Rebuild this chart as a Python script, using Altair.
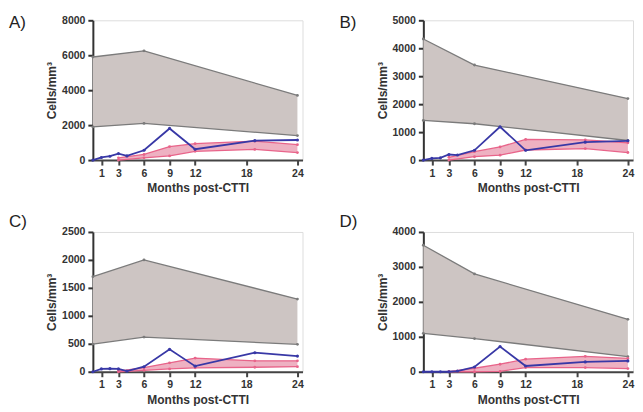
import altair as alt
import pandas as pd

# ---- data ----
grey_months = [0, 6, 24]
pink_months = [3, 6, 9, 12, 19, 24]
blue_months = [0, 1, 2, 3, 4, 6, 9, 12, 19, 24]
x_ticks = [1, 3, 6, 9, 12, 18, 24]

# Panel A
A_grey_up = [5900, 6250, 3700]
A_grey_lo = [1900, 2100, 1400]
A_pink_up = [130, 320, 770, 940, 1080, 880]
A_pink_lo = [0, 130, 240, 500, 610, 430]
A_blue = [0, 150, 220, 370, 240, 560, 1810, 620, 1110, 1150]

# Panel B
B_grey_up = [4330, 3400, 2200]
B_grey_lo = [1420, 1300, 700]
B_pink_up = [100, 300, 470, 740, 720, 620]
B_pink_lo = [0, 120, 175, 360, 410, 270]
B_blue = [0, 60, 80, 200, 180, 350, 1190, 350, 640, 690]

# Panel C
C_grey_up = [1700, 2000, 1300]
C_grey_lo = [495, 620, 490]
C_pink_up = [10, 75, 160, 245, 195, 195]
C_pink_lo = [0, 25, 50, 70, 80, 90]
C_blue = [0, 50, 55, 50, 12, 90, 400, 100, 340, 280]

# Panel D
D_grey_up = [3620, 2800, 1500]
D_grey_lo = [1100, 950, 430]
D_pink_up = [0, 100, 215, 360, 440, 380]
D_pink_lo = [0, 0, 10, 120, 120, 90]
D_blue = [0, 0, 0, 0, 20, 135, 720, 165, 280, 310]

GREY_FILL = "#cdc5c3"
GREY_LINE = "#7b7b7b"
PINK_FILL = "#eba3b7"
PINK_LINE = "#e8648a"
BLUE = "#3838a6"
FONT = "Liberation Sans"
W, H = 210, 140


def panel(letter, label_y, ymax, ystep, gu, gl, pu, pl, bl):
    grey = pd.DataFrame({"m": grey_months, "up": gu, "lo": gl})
    pink = pd.DataFrame({"m": pink_months, "up": pu, "lo": pl})
    blue = pd.DataFrame({"m": blue_months, "v": bl})

    xs = alt.Scale(domain=[0, 24.6], nice=False, zero=False)
    ys = alt.Scale(domain=[0, ymax], nice=False)
    xax = alt.Axis(values=x_ticks, title="Months post-CTTI", grid=False,
                   labelFont=FONT, labelFontWeight="bold", labelFontSize=10.5,
                   labelColor="#333", titleFont=FONT, titleFontWeight="bold",
                   titleFontSize=12, titleColor="#333", domainColor="#444",
                   domainWidth=2, tickColor="#444", tickWidth=2, tickSize=5,
                   labelPadding=3, titlePadding=4, labelOverlap=False)
    yax = alt.Axis(values=list(range(0, ymax + 1, ystep)), format="d",
                   title="Cells/mm³", grid=False, labelFont=FONT,
                   labelFontWeight="bold", labelFontSize=10.5, labelColor="#333",
                   titleFont=FONT, titleFontWeight="bold", titleFontSize=12,
                   titleColor="#333", domainColor="#333", domainWidth=2,
                   tickColor="#333", tickWidth=2, tickSize=5, labelPadding=3,
                   titlePadding=3, labelOverlap=False)

    x = alt.X("m:Q", scale=xs, axis=xax)

    def y(field):
        return alt.Y(field, type="quantitative", scale=ys, axis=yax)

    gbase = alt.Chart(grey)
    g_area = gbase.mark_area(color=GREY_FILL, opacity=1).encode(
        x=x, y=y("up"), y2="lo:Q")
    g_up = gbase.mark_line(color=GREY_LINE, strokeWidth=1.3,
                           point=alt.OverlayMarkDef(color=GREY_LINE, size=8)).encode(
        x=x, y=y("up"))
    g_lo = gbase.mark_line(color=GREY_LINE, strokeWidth=1.3,
                           point=alt.OverlayMarkDef(color=GREY_LINE, size=8)).encode(
        x=x, y=y("lo"))

    pbase = alt.Chart(pink)
    p_area = pbase.mark_area(color=PINK_FILL, opacity=0.85).encode(
        x=x, y=y("up"), y2="lo:Q")
    p_up = pbase.mark_line(color=PINK_LINE, strokeWidth=1.3,
                           point=alt.OverlayMarkDef(color=PINK_LINE, size=8)).encode(
        x=x, y=y("up"))
    p_lo = pbase.mark_line(color=PINK_LINE, strokeWidth=1.3,
                           point=alt.OverlayMarkDef(color=PINK_LINE, size=8)).encode(
        x=x, y=y("lo"))

    b_line = alt.Chart(blue).mark_line(
        color=BLUE, strokeWidth=1.8,
        point=alt.OverlayMarkDef(color=BLUE, size=10)).encode(
        x=x, y=y("v"))

    label = alt.Chart(pd.DataFrame({"t": [letter]})).mark_text(
        align="left", baseline="alphabetic", font=FONT, fontSize=17,
        color="#222").encode(text="t:N", x=alt.value(-84), y=alt.value(label_y))

    return alt.layer(g_area, g_up, g_lo, p_area, p_up, p_lo, b_line, label).properties(
        width=W, height=H)


A = panel("A)", 8, 8000, 2000, A_grey_up, A_grey_lo, A_pink_up, A_pink_lo, A_blue)
B = panel("B)", 8, 5000, 1000, B_grey_up, B_grey_lo, B_pink_up, B_pink_lo, B_blue)
C = panel("C)", -5, 2500, 500, C_grey_up, C_grey_lo, C_pink_up, C_pink_lo, C_blue)
D = panel("D)", -5, 4000, 1000, D_grey_up, D_grey_lo, D_pink_up, D_pink_lo, D_blue)

chart = alt.vconcat(
    alt.hconcat(A, B, spacing=34),
    alt.hconcat(C, D, spacing=34),
    spacing=18,
).properties(
    padding={"left": 0, "top": 5, "right": 0, "bottom": 0}
).configure_view(stroke=None).configure(background="white")

chart.save("out.html", embed_options={"renderer": "svg", "actions": False})
